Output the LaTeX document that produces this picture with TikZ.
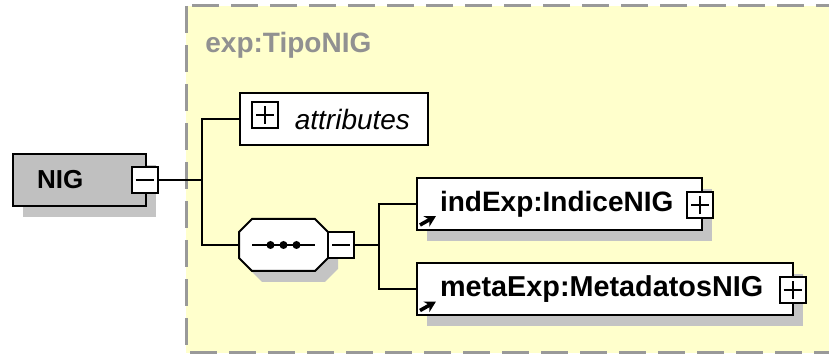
\documentclass[tikz,border=0pt]{standalone}
\usepackage{fontspec}
\setmainfont{Liberation Sans}
\usetikzlibrary{arrows.meta,
                shadows
                }
\definecolor{typefill}{HTML}{FFFFCC}
\definecolor{typeline}{HTML}{999999}
\definecolor{elemgray}{HTML}{C0C0C0}
\definecolor{shadegray}{HTML}{C4C4C4}

\begin{document}
\begin{tikzpicture}[
    x = 0.5pt, y = -0.5pt,
    shade/.style = {drop shadow={shadow xshift=5pt, shadow yshift=-5.5pt,
                    fill=shadegray, opacity=1}},
     elem/.style = {draw, line width=1pt, fill=white, minimum height=26pt,
                    inner ysep=0pt, align=left,
                    font=\fontsize{14pt}{16pt}\selectfont\bfseries},
      ref/.style = {path picture={\draw[line width=1.8pt, -{Stealth[length=5.5pt,width=6pt]}]
                    ([xshift=1.5pt,yshift=2.5pt]path picture bounding box.south west) -- ++(8pt,4.5pt);}},
      box/.style = {draw, line width=1pt, fill=white, minimum size=13pt, inner sep=0pt},
    minus/.style = {box, path picture={\draw[line width=1pt]
                    ([xshift=2pt]path picture bounding box.west) -- ([xshift=-2pt]path picture bounding box.east);}},
     plus/.style = {box, path picture={\draw[line width=1pt]
                    ([xshift=2pt]path picture bounding box.west) -- ([xshift=-2pt]path picture bounding box.east)
                    ([yshift=2pt]path picture bounding box.south) -- ([yshift=-2pt]path picture bounding box.north);}},
  octagon/.style = {insert path={++(-15.75pt,13pt) -- ++(31.5pt,0pt) -- ++(6.5pt,-6.5pt)
                    -- ++(0pt,-13pt) -- ++(-6.5pt,-6.5pt) -- ++(-31.5pt,0pt)
                    -- ++(-6.5pt,6.5pt) -- ++(0pt,13pt) -- cycle}},
     wire/.style = {line width=1pt}
                    ]
\useasboundingbox (0,0) rectangle (829,356);
\clip (0,0) rectangle (829,356);
\draw[typeline, fill=typefill, line width=1.5pt, dash pattern=on 13.5pt off 6pt]
    (186,6) rectangle (850,353);
\node (tipo) [anchor=west, inner sep=0pt, text=typeline!95!black,
              font=\fontsize{14pt}{16pt}\selectfont\bfseries] at (205,45) {exp:TipoNIG};

\node (nig) [elem, shade, fill=elemgray, minimum width=66.5pt, text width=42.5pt,
             inner xsep=12pt, font=\fontsize{13pt}{16pt}\selectfont\bfseries] at (79.5,180) {NIG};
\node (nigminus) [minus] at (144.5,180) {};

\node (attrs) [elem, align=right, text width=76pt, inner xsep=9pt,
               font=\fontsize{14pt}{16pt}\selectfont\itshape] at (334,119) {attributes};
\node (attrsplus) [plus] at (265,115) {};

\node (choice) [minimum width=44.5pt, minimum height=26pt, inner sep=0pt] at (283.5,245) {};
\fill[shadegray] ([xshift=5pt,yshift=-5.5pt]choice.center) [octagon];
\draw[line width=1pt, fill=white] (choice.center) [octagon];
\draw[line width=1pt] ([xshift=-15.75pt]choice.center) -- ([xshift=15.75pt]choice.center);
\foreach \d in {-6.5pt,0pt,6.5pt}
    \fill ([xshift=\d]choice.center) circle (2pt);
\node (choiceminus) [minus] at (341,245) {};

\node (indice) [elem, shade, ref, text width=119.5pt, inner xsep=11.5pt] at (559.5,204) {indExp:IndiceNIG};
\node (indiceplus) [plus] at (700,205.5) {};
\node (meta) [elem, shade, ref, text width=165pt, inner xsep=11.5pt,
              font=\fontsize{14.4pt}{16pt}\selectfont\bfseries] at (605,289.5) {metaExp:MetadatosNIG};
\node (metaplus) [plus] at (792.5,290) {};

\coordinate (fork1) at (202,180);
\coordinate (fork2) at (379,245);
\draw[wire] (nigminus) -- (fork1);
\draw[wire] (attrs.west) -| (fork1) |- (choice.west);
\draw[wire] (choiceminus) -- (fork2);
\draw[wire] (indice.west) -| (fork2) |- (meta.west);
\end{tikzpicture}
\end{document}
